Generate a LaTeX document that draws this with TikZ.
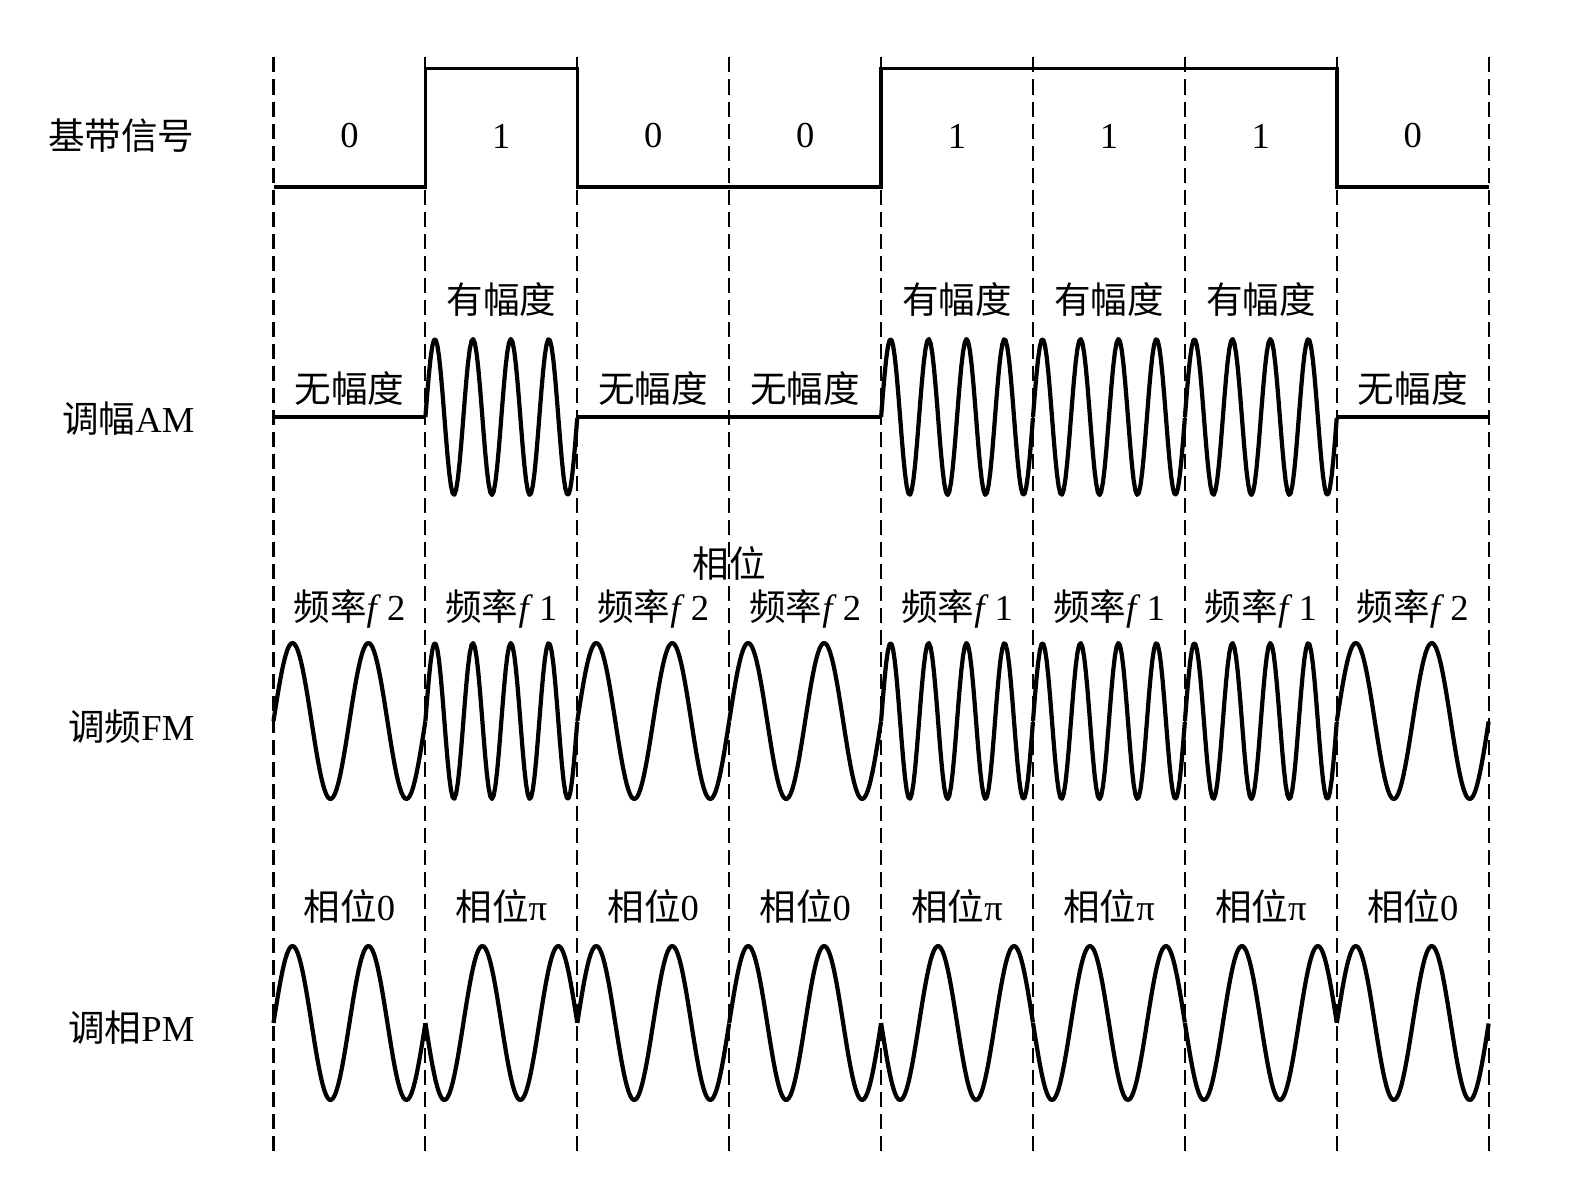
\documentclass[tikz,border=0pt]{standalone}
\usepackage{fontspec}
\setmainfont{Liberation Serif}
\newfontfamily\cjk{Noto Sans CJK SC}
\usepackage{tikz}
\usetikzlibrary{positioning}

\newcommand{\lblfont}{\fontsize{10.4pt}{12pt}\selectfont}

\begin{document}
\begin{tikzpicture}[x=0.01cm,y=-0.01cm,
  grid/.style={black,line width=0.6pt,dash pattern=on 0.15cm off 0.07cm},
  wave/.style={black,line width=1.2pt,line join=round},
  base/.style={black,line width=1pt,line join=miter},
  lbl/.style={font=\lblfont,inner sep=1pt},
  side/.style={font=\lblfont,anchor=east,inner sep=0pt}]
\useasboundingbox (0,0) rectangle (1583,1177);
% bit boundaries
\foreach \i in {0,...,8}{
  \draw[grid] ({273.5+151.9*\i},57.5) -- ({273.5+151.9*\i},1151);
}
% row names
\node[side] (lbase) at (195,136) {{\cjk 基带信号}};
\node[side] (lam) at (195,419) {{\cjk 调幅}AM};
\node[side] (lfm) at (195,727) {{\cjk 调频}FM};
\node[side] (lpm) at (195,1028) {{\cjk 调相}PM};
\node[lbl] (xw) at (729,563) {{\cjk 相位}};
% baseband
\draw[base] (273.5,186.8) \foreach \b [count=\i from 0] in {0,1,0,0,1,1,1,0}{
  -- ({273.5+151.9*\i},{186.8-118.1*\b}) -- ({273.5+151.9*(\i+1)},{186.8-118.1*\b}) };
\foreach \b [count=\i from 0] in {0,1,0,0,1,1,1,0}{
  \pgfmathsetmacro{\xa}{273.5+151.9*\i}
  \pgfmathsetmacro{\xb}{\xa+151.9}
  \pgfmathsetmacro{\xm}{\xa+75.95}
  \pgfmathtruncatemacro{\cyc}{2+2*\b}
  \pgfmathtruncatemacro{\sgn}{1-2*\b}
  \node[lbl] (bit\i) at (\xm,136) {\b};
  % AM
  \ifnum\b=1
    \draw[wave] plot[domain=0:1,samples=90] ({\xa+151.9*\x},{417-78*sin(1440*\x)});
    \node[lbl] (am\i) at (\xm,300) {{\cjk 有幅度}};
  \else
    \draw[wave] (\xa,417) -- (\xb,417);
    \node[lbl] (am\i) at (\xm,389) {{\cjk 无幅度}};
  \fi
  % FM
  \draw[wave] plot[domain=0:1,samples=90] ({\xa+151.9*\x},{721-78*sin(360*\cyc*\x)});
  \ifnum\b=1
    \node[lbl] (fm\i) at (\xm,609) {{\cjk 频率}\textit{f}\,1};
  \else
    \node[lbl] (fm\i) at (\xm,609) {{\cjk 频率}\textit{f}\,2};
  \fi
  % PM
  \draw[wave] plot[domain=0:1,samples=90] ({\xa+151.9*\x},{1023-77*(\sgn)*sin(720*\x)});
  \ifnum\b=1
    \node[lbl] (pm\i) at (\xm,906) {{\cjk 相位}π};
  \else
    \node[lbl] (pm\i) at (\xm,906) {{\cjk 相位}0};
  \fi
}
\end{tikzpicture}
\end{document}
